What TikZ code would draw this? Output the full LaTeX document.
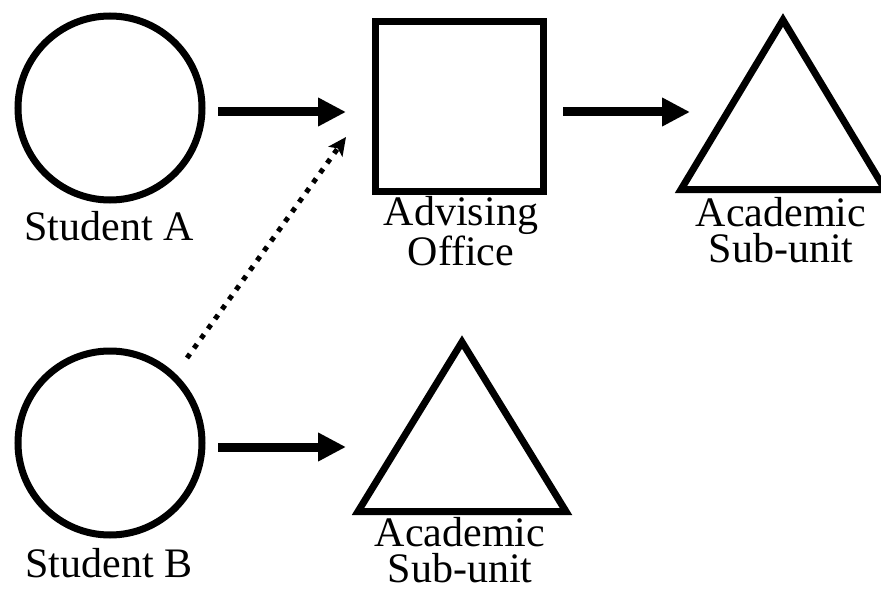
\documentclass[tikz,border=0pt]{standalone}
\usepackage{fontspec}
\setmainfont{Liberation Serif}
\usetikzlibrary{arrows.meta}
\begin{document}
\begin{tikzpicture}[x=1pt,y=-1pt,
  shp/.style={draw=black,line width=7pt,inner sep=0pt},
  circ/.style={shp,circle,minimum size=184pt},
  sq/.style={shp,rectangle,minimum width=168pt,minimum height=170pt},
  tri/.style={draw=black,line width=7pt,line join=miter},
  lbl/.style={font=\fontsize{42}{36}\selectfont,align=center,inner sep=0pt,anchor=base},
  bigarrow/.style={line width=9pt,-{Triangle[length=28pt,width=27pt]}},
  dotarrow/.style={line width=5pt,dash pattern=on 5pt off 7pt,-{Stealth[length=18pt,width=17pt,inset=4pt]}}]
\useasboundingbox (0,0) rectangle (881,599);
% shapes
\node[circ] (A) at (110,108) {};
\node[circ] (B) at (110,443) {};
\node[sq] (S) at (459.5,106.5) {};
\draw[tri] (783,20) coordinate (T1) -- (885,189.5) coordinate (T1r) -- (681,189.5) coordinate (T1l) -- cycle;
\draw[tri] (462,342) coordinate (T2) -- (566,511.5) coordinate (T2r) -- (358,511.5) coordinate (T2l) -- cycle;
% labels
\node[lbl] (la) at (109,240) {Student A};
\node[lbl] (lb) at (109,577) {Student B};
\node[lbl] (ls) at (461,265) {Advising\\Office};
\node[lbl] (lt1) at (781,262) {Academic\\Sub-unit};
\node[lbl] (lt2) at (460,582) {Academic\\Sub-unit};
% connectors
\coordinate (a1s) at (218,112);
\coordinate (a1e) at (346,112);
\coordinate (a2s) at (563,112);
\coordinate (a2e) at (690,112);
\coordinate (a3s) at (218,447);
\coordinate (a3e) at (346,447);
\coordinate (d1s) at (187,358);
\coordinate (d1e) at (346,137);
\draw[bigarrow] (a1s) -- (a1e);
\draw[bigarrow] (a2s) -- (a2e);
\draw[bigarrow] (a3s) -- (a3e);
\draw[dotarrow] (d1s) -- (d1e);
\end{tikzpicture}
\end{document}
